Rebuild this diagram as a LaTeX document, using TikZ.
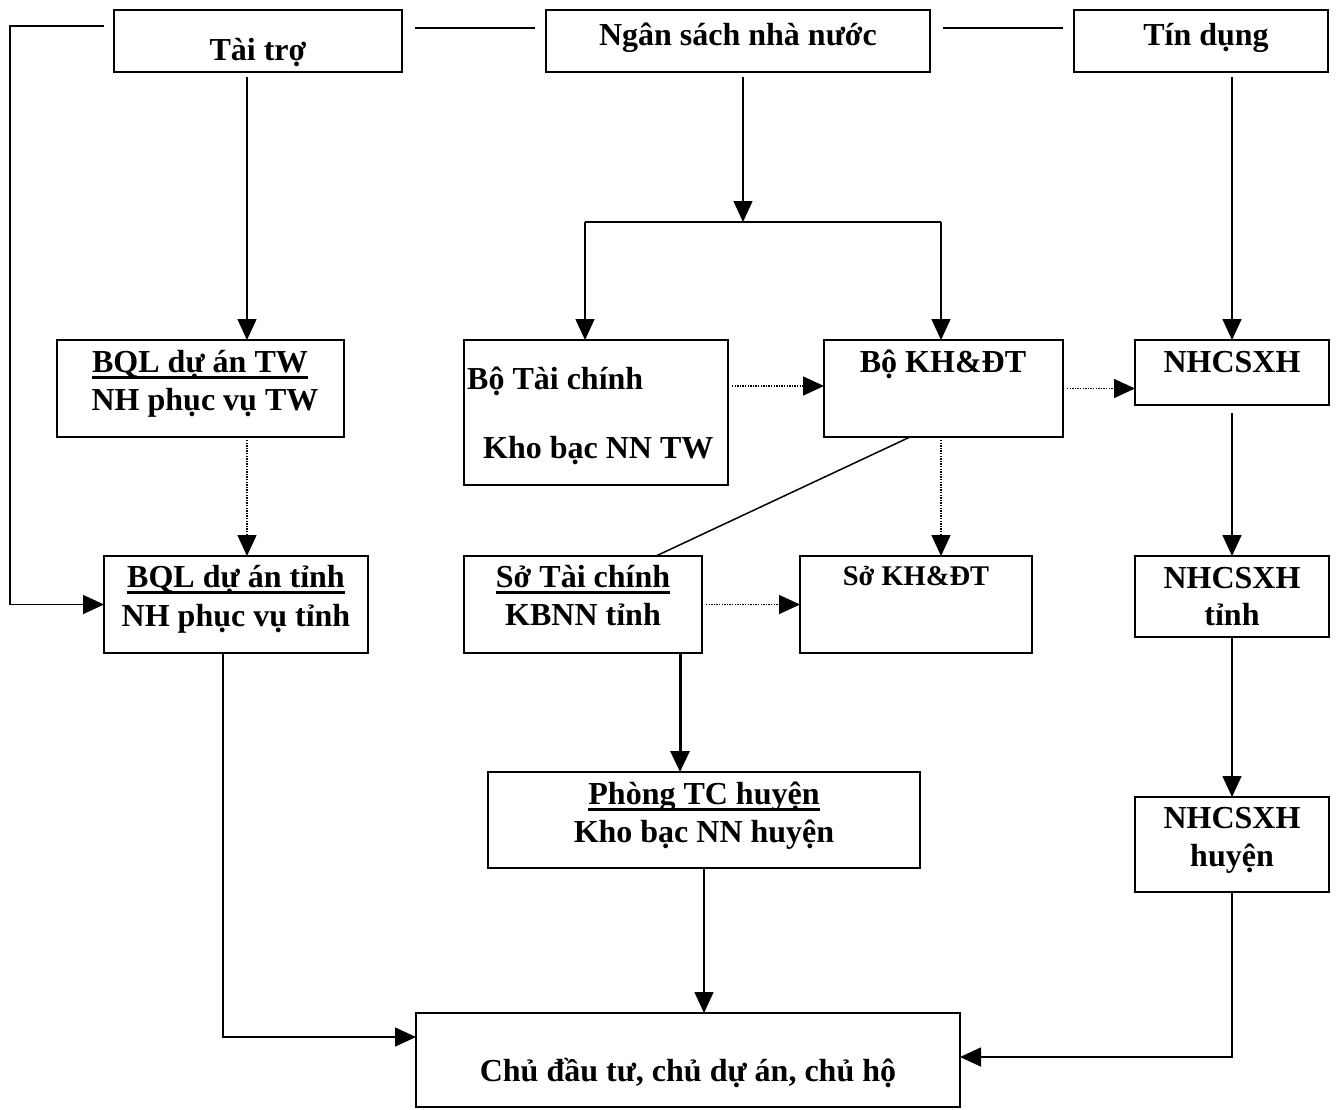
\documentclass[tikz,border=0pt]{standalone}
\usepackage{fontspec}
\setmainfont{Liberation Serif}
\usetikzlibrary{arrows.meta,calc}
\newcommand\ulx[1]{\setbox0\hbox{#1}\rlap{\rule[-6.5pt]{\wd0}{2.8pt}}\box0}
\newcommand\mkbox[5]{\node[box,minimum width=#4pt,minimum height=#5pt] (#1) at (#2,#3) {};}
\begin{document}
\begin{tikzpicture}[x=1pt,y=-1pt,
  box/.style={draw,line width=1.8pt,anchor=north west,inner sep=0pt,outer sep=0pt},
  txt/.style={anchor=base,inner sep=0pt,font=\bfseries\fontsize{32}{38}\selectfont},
  con/.style={line width=1.5pt},
  arr/.style={con,-{Triangle[length=21pt,width=19pt]}},
  dot/.style={line width=1.5pt,dash pattern=on 1.3pt off 1.3pt,-{Triangle[length=21pt,width=19pt]}}]
\useasboundingbox (0,0) rectangle (1339,1109);
% boxes
\mkbox{tt}{114}{10}{288}{62}
\mkbox{ns}{546}{10}{384}{62}
\mkbox{td}{1074}{10}{254}{62}
\mkbox{bqlw}{57}{340}{287}{97}
\mkbox{btc}{464}{340}{264}{145}
\mkbox{bkh}{824}{340}{239}{97}
\mkbox{nh}{1135}{340}{194}{65}
\mkbox{bqlt}{104}{556}{264}{97}
\mkbox{stc}{464}{556}{238}{97}
\mkbox{skh}{800}{556}{232}{97}
\mkbox{nht}{1135}{556}{194}{81}
\mkbox{ptc}{488}{772}{432}{96}
\mkbox{nhh}{1135}{797}{194}{95}
\mkbox{chu}{416}{1013}{544}{94}
% texts
\node[txt] (t1) at (258,60) {Tài trợ};
\node[txt] (t2) at (738,45) {Ngân sách nhà nước};
\node[txt] (t3) at (1206,45) {Tín dụng};
\node[txt] (t4) at (200,372) {\ulx{BQL dự án TW}};
\node[txt] (t5) at (205,410) {NH phục vụ TW};
\node[txt,anchor=base west] (t6) at (467,389) {Bộ Tài chính};
\node[txt,anchor=base west] (t7) at (483,458) {Kho bạc NN TW};
\node[txt] (t8) at (943,372) {Bộ KH\&ĐT};
\node[txt] (t9) at (1232,372) {NHCSXH};
\node[txt] (t10) at (236,587) {\ulx{BQL dự án tỉnh}};
\node[txt] (t11) at (236,626) {NH phục vụ tỉnh};
\node[txt] (t12) at (583,587) {\ulx{Sở Tài chính}};
\node[txt] (t13) at (583,625) {KBNN tỉnh};
\node[txt,font=\bfseries\fontsize{28.5}{34}\selectfont] (t14) at (916,585) {Sở KH\&ĐT};
\node[txt] (t15) at (1232,588) {NHCSXH};
\node[txt] (t16) at (1232,625) {tỉnh};
\node[txt] (t17) at (704,804) {\ulx{Phòng TC huyện}};
\node[txt] (t18) at (704,842) {Kho bạc NN huyện};
\node[txt] (t19) at (1232,828) {NHCSXH};
\node[txt] (t20) at (1232,866) {huyện};
\node[txt] (t21) at (688,1081) {Chủ đầu tư, chủ dự án, chủ hộ};
% top lines
\coordinate (ttstub) at (104,26);
\draw[arr] (ttstub) -- (10,26) |- (bqlt.west);
\coordinate (l1a) at (415,28); \coordinate (l1b) at (535,28);
\draw[con] (l1a) -- (l1b);
\coordinate (l2a) at (943,28); \coordinate (l2b) at (1063,28);
\draw[con] (l2a) -- (l2b);
% left column
\coordinate (a1) at ([shift={(-11,5)}]tt.south);
\draw[arr] (a1) -- (a1 |- bqlw.north);
\coordinate (a2) at ([shift={(46.5,3)}]bqlw.south);
\draw[dot] (a2) -- (a2 |- bqlt.north);
\draw[arr] ([xshift=-13pt]bqlt.south) |- ([yshift=23pt]chu.west);
% middle
\coordinate (junc) at (743,222);
\draw[arr] ([shift={(5,5)}]ns.south) -- (junc);
\coordinate (jl) at (585,222); \coordinate (jr) at (941,222);
\draw[con] (jl) -- (jr);
\draw[arr] (jl) -- (jl |- btc.north);
\draw[arr] (jr) -- (jr |- bkh.north);
\coordinate (d1) at ([shift={(4,-26.5)}]btc.east);
\draw[dot] (d1) -- (d1 -| bkh.west);
\draw[dot] ([xshift=4pt]bkh.east) -- (bkh.east -| nh.west);
\coordinate (d2) at ([shift={(-2.5,3)}]bkh.south);
\draw[dot] (d2) -- (d2 |- skh.north);
\draw[con] ([xshift=-33.5pt]bkh.south) -- ([xshift=73pt]stc.north);
\draw[dot] ([xshift=4pt]stc.east) -- (skh.west);
\coordinate (d3) at ([xshift=97pt]stc.south);
\draw[arr,line width=3pt] (d3) -- (d3 |- ptc.north);
\draw[arr] (ptc.south) -- (ptc.south |- chu.north);
% right column
\coordinate (d5) at ([shift={(31,5)}]td.south);
\draw[arr] (d5) -- (d5 |- nh.north);
\draw[arr] ([yshift=-8pt]nh.south) -- (nht.north);
\draw[arr] (nht.south) -- (nhh.north);
\draw[arr] (nhh.south) |- ([yshift=3pt]chu.east);
\end{tikzpicture}
\end{document}
